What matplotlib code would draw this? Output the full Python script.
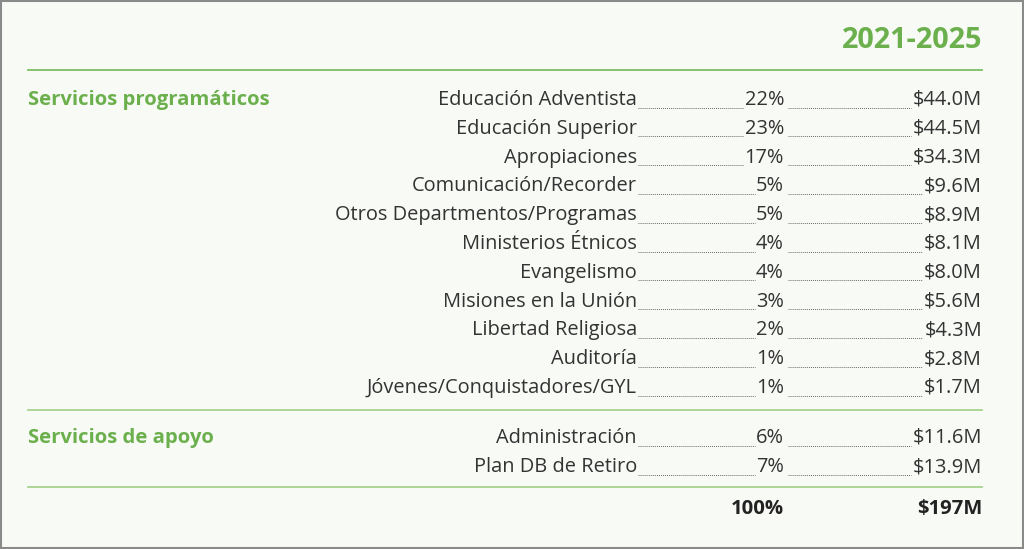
import matplotlib.pyplot as plt
from matplotlib.patches import Rectangle

plt.rcParams['font.family'] = ['Open Sans', 'DejaVu Sans']

# data
period = "2021-2025"
group_prog = "Servicios programáticos"
prog_labels = ["Educación Adventista", "Educación Superior", "Apropiaciones",
               "Comunicación/Recorder", "Otros Departmentos/Programas",
               "Ministerios Étnicos", "Evangelismo", "Misiones en la Unión",
               "Libertad Religiosa", "Auditoría", "Jóvenes/Conquistadores/GYL"]
prog_pct = [22, 23, 17, 5, 5, 4, 4, 3, 2, 1, 1]
prog_amt = [44.0, 44.5, 34.3, 9.6, 8.9, 8.1, 8.0, 5.6, 4.3, 2.8, 1.7]
group_sup = "Servicios de apoyo"
sup_labels = ["Administración", "Plan DB de Retiro"]
sup_pct = [6, 7]
sup_amt = [11.6, 13.9]
total_pct = "100%"
total_amt = "$197M"

GREEN = "#6bb04d"
LINE1 = "#7dbf62"
LINE2 = "#a5d38e"
TXT = "#333333"

W, H = 1024, 549
fig = plt.figure(figsize=(W / 100, H / 100), dpi=100)
fig.patch.set_facecolor("#f8faf6")
ax = fig.add_axes([0, 0, 1, 1])
ax.set_xlim(0, W)
ax.set_ylim(H, 0)
ax.axis("off")
ax.add_patch(Rectangle((0.5, 0.5), W - 1.5, H - 1.5, fill=False, ec="#8a8a8a", lw=1.5))

X_LEFT, X_LABEL, X_PCT, X_AMT = 28, 637, 784, 982
FS = 14.4
FSB = 14.6
DY = 2  # text sits a bit lower than its row centre

ax.text(X_AMT, 38 + DY, period, ha="right", va="center", fontsize=20.8,
        fontweight="bold", color=GREEN)
ax.plot([X_LEFT, X_AMT], [70, 70], color=LINE1, lw=1.3)
ax.plot([X_LEFT, X_AMT], [410, 410], color=LINE2, lw=1.3)
ax.plot([X_LEFT, X_AMT], [487, 487], color=LINE2, lw=1.3)

ax.text(X_LEFT, 98 + DY, group_prog, ha="left", va="center", fontsize=FSB,
        fontweight="bold", color=GREEN)
ax.text(X_LEFT, 436 + DY, group_sup, ha="left", va="center", fontsize=FSB,
        fontweight="bold", color=GREEN)

row_y = [98 + i * 28.8 for i in range(len(prog_labels))] + [436, 465]
labels = prog_labels + sup_labels
pcts = prog_pct + sup_pct
amts = prog_amt + sup_amt

fig.canvas.draw()
r = fig.canvas.get_renderer()
inv = ax.transData.inverted()


def left_edge(t):
    bb = t.get_window_extent(renderer=r)
    return inv.transform((bb.x0, bb.y0))[0]


for y, lab, p, a in zip(row_y, labels, pcts, amts):
    ty = y + DY
    ax.text(X_LABEL, ty, lab, ha="right", va="center", fontsize=FS, color=TXT)
    tp = ax.text(X_PCT, ty, f"{p}%", ha="right", va="center", fontsize=FS, color=TXT)
    ta = ax.text(X_AMT, ty, f"${a:.1f}M", ha="right", va="center", fontsize=FS, color=TXT)
    xp = left_edge(tp)
    xa = left_edge(ta)
    ax.plot([X_LABEL + 1, xp - 1], [ty + 7.5, ty + 7.5], color="#666666", lw=0.7,
            ls=(0, (1, 1.1)))
    ax.plot([X_PCT + 4, xa - 2], [ty + 7.5, ty + 7.5], color="#666666", lw=0.7,
            ls=(0, (1, 1.1)))

ax.text(X_PCT, 507 + DY, total_pct, ha="right", va="center", fontsize=FSB,
        fontweight="bold", color="#222222")
ax.text(X_AMT, 507 + DY, total_amt, ha="right", va="center", fontsize=FSB,
        fontweight="bold", color="#222222")

fig.savefig("out.png", dpi=100, facecolor=fig.get_facecolor())
